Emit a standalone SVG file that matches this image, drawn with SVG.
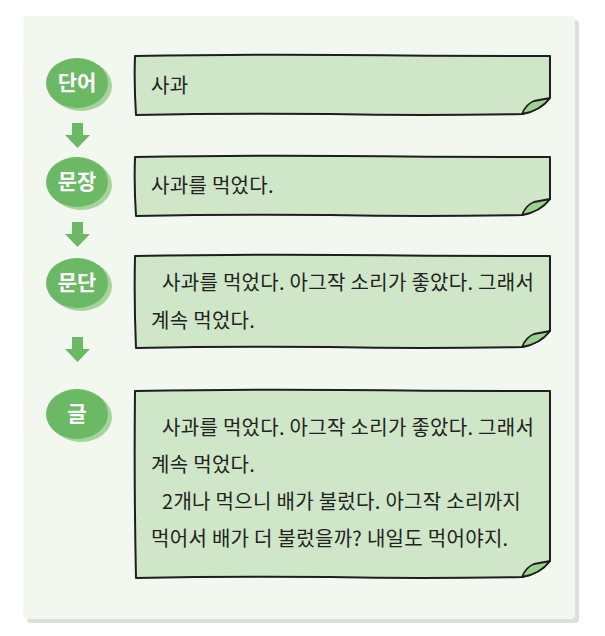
<svg xmlns="http://www.w3.org/2000/svg" width="605" height="636" viewBox="0 0 605 636">
<style>
.bg{fill:#f2f8ef}
.shadow{fill:#dcdedb}
.box{fill:#cfe6c8;stroke:#1e1e1e;stroke-width:2;stroke-linejoin:round}
.flap{fill:#9ed08e;stroke:#1e1e1e;stroke-width:1.8;stroke-linejoin:round}
.node{fill:#6bb865}
.nodesh{fill:#a6d49c}
.lbl{font-family:"Noto Sans CJK KR","Noto Sans",sans-serif;font-size:21px;font-weight:bold;fill:#ffffff;text-anchor:middle}
.txt{font-family:"Noto Sans CJK KR","Noto Sans",sans-serif;font-size:20px;letter-spacing:0.3px;fill:#222222}
.arrow{fill:#6bb865}
</style>
<rect class="shadow" x="27" y="20" width="552" height="603" rx="4"/>
<rect class="bg" x="23" y="16" width="552" height="603" rx="4"/>

<g id="connectors">
<path class="arrow" d="M72,123 H83 V135 H90 L77.5,148 L65,135 H72 Z"/>
<path class="arrow" d="M72,222 H83 V234 H90 L77.5,247 L65,234 H72 Z"/>
<path class="arrow" d="M72,337 H83 V349 H90 L77.5,362 L65,349 H72 Z"/>
</g>

<g id="node-danuh">
<ellipse class="nodesh" cx="81" cy="86" rx="31" ry="25"/>
<ellipse class="node" cx="77" cy="83" rx="31" ry="25"/>
<text class="lbl" x="77" y="90">단어</text>
</g>
<g id="node-munjang">
<ellipse class="nodesh" cx="81" cy="185" rx="31" ry="25"/>
<ellipse class="node" cx="77" cy="182" rx="31" ry="25"/>
<text class="lbl" x="77" y="189">문장</text>
</g>
<g id="node-mundan">
<ellipse class="nodesh" cx="81" cy="286" rx="31" ry="25"/>
<ellipse class="node" cx="77" cy="283" rx="31" ry="25"/>
<text class="lbl" x="77" y="290">문단</text>
</g>
<g id="node-geul">
<ellipse class="nodesh" cx="81" cy="417" rx="31" ry="25"/>
<ellipse class="node" cx="77" cy="414" rx="31" ry="25"/>
<text class="lbl" x="77" y="421">글</text>
</g>

<g id="box-1">
<path class="box" d="M135,56 Q250,54 340,55 Q450,56 550,56 L550,98 Q540,111 522,114 Q420,116 330,114 Q230,113 136,115 Q134,85 135,56 Z"/>
<path class="flap" d="M522,114 Q526,104 534,101 L550,98 Q540,111 522,114 Z"/>
<text class="txt" x="151" y="93">사과</text>
</g>

<g id="box-2">
<path class="box" d="M135,157 Q250,155 340,156 Q450,157 550,157 L550,199 Q540,212 522,215 Q420,217 330,215 Q230,214 136,216 Q134,186 135,157 Z"/>
<path class="flap" d="M522,215 Q526,205 534,202 L550,199 Q540,212 522,215 Z"/>
<text class="txt" x="151" y="193">사과를 먹었다.</text>
</g>

<g id="box-3">
<path class="box" d="M135,256 Q250,254 340,255 Q450,256 550,256 L550,331 Q540,344 522,347 Q420,349 330,347 Q230,346 136,348 Q134,302 135,256 Z"/>
<path class="flap" d="M522,347 Q526,337 534,334 L550,331 Q540,344 522,347 Z"/>
<text class="txt" x="162" y="290">사과를 먹었다. 아그작 소리가 좋았다. 그래서</text>
<text class="txt" x="151" y="328">계속 먹었다.</text>
</g>

<g id="box-4">
<path class="box" d="M135,391 Q250,389 340,390 Q450,391 550,391 L550,561 Q540,574 522,577 Q420,579 330,577 Q230,576 136,578 Q134,484 135,391 Z"/>
<path class="flap" d="M522,577 Q526,567 534,564 L550,561 Q540,574 522,577 Z"/>
<text class="txt" x="162" y="435">사과를 먹었다. 아그작 소리가 좋았다. 그래서</text>
<text class="txt" x="151" y="472">계속 먹었다.</text>
<text class="txt" x="162" y="509">2개나 먹으니 배가 불렀다. 아그작 소리까지</text>
<text class="txt" x="151" y="546">먹어서 배가 더 불렀을까? 내일도 먹어야지.</text>
</g>
</svg>
